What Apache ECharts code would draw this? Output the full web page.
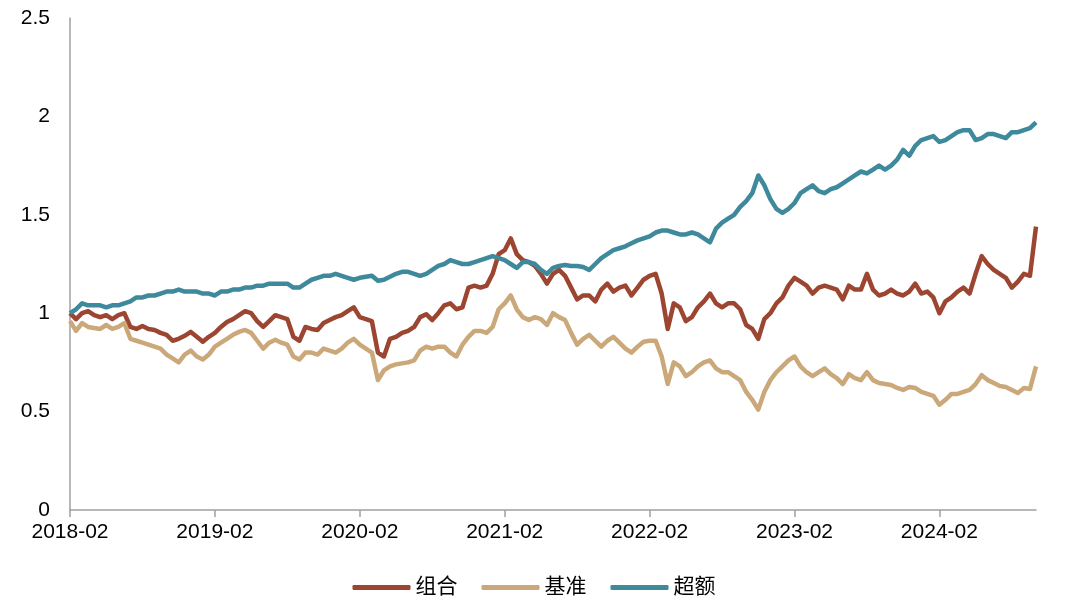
<!DOCTYPE html>
<html>
<head>
<meta charset="utf-8">
<script src="https://cdn.jsdelivr.net/npm/echarts@6/dist/echarts.min.js"></script>
<style>
html,body{margin:0;padding:0;background:#fff;}
#chart{width:1068px;height:611px;}
</style>
</head>
<body>
<div id="chart"></div>
<script>
// Half-monthly sample dates from 2018-02 to 2024-09 end
const startYear = 2018, startMonth = 2, nPoints = 161;
const categories = [];
for (let i = 0; i < nPoints; i++) {
  const m0 = (startMonth - 1) + Math.floor(i / 2);
  const y = startYear + Math.floor(m0 / 12);
  const m = (m0 % 12) + 1;
  const d = (i % 2 === 0) ? '01' : '16';
  categories.push(y + '-' + String(m).padStart(2, '0') + '-' + d);
}

const seriesNames = ['组合', '基准', '超额'];
const yTicks = [0, 0.5, 1, 1.5, 2, 2.5];

const portfolio = [
  1.00,0.97,1.00,1.01,0.99,0.98,0.99,0.97,0.99,1.00,
  0.93,0.92,0.935,0.92,0.915,0.90,0.89,0.86,0.87,0.885,
  0.905,0.88,0.855,0.88,0.90,0.93,0.955,0.97,0.99,1.01,
  1.00,0.96,0.93,0.96,0.99,0.98,0.97,0.88,0.86,0.93,
  0.92,0.915,0.95,0.965,0.98,0.99,1.01,1.03,0.98,0.97,
  0.96,0.80,0.78,0.87,0.88,0.90,0.91,0.93,0.98,0.995,
  0.965,1.00,1.04,1.05,1.02,1.03,1.13,1.14,1.13,1.14,
  1.20,1.30,1.32,1.38,1.30,1.27,1.26,1.24,1.20,1.15,
  1.20,1.22,1.19,1.13,1.07,1.09,1.09,1.06,1.12,1.15,
  1.11,1.13,1.14,1.09,1.13,1.17,1.19,1.20,1.10,0.92,
  1.05,1.03,0.96,0.98,1.03,1.06,1.10,1.05,1.03,1.05,
  1.05,1.02,0.94,0.92,0.87,0.97,1.00,1.05,1.08,1.14,
  1.18,1.16,1.14,1.10,1.13,1.14,1.13,1.12,1.07,1.14,
  1.12,1.12,1.20,1.12,1.09,1.10,1.12,1.10,1.09,1.11,
  1.15,1.10,1.11,1.08,1.00,1.06,1.08,1.11,1.13,1.10,
  1.20,1.29,1.25,1.22,1.20,1.18,1.13,1.16,1.20,1.19,
  1.44
];

const benchmark = [
  0.96,0.91,0.95,0.93,0.925,0.92,0.94,0.92,0.93,0.95,
  0.87,0.86,0.85,0.84,0.83,0.82,0.79,0.77,0.75,0.79,
  0.81,0.78,0.765,0.79,0.83,0.85,0.87,0.89,0.905,0.915,
  0.90,0.86,0.82,0.85,0.865,0.85,0.84,0.78,0.765,0.80,
  0.80,0.79,0.82,0.81,0.80,0.82,0.85,0.87,0.84,0.82,
  0.80,0.66,0.71,0.73,0.74,0.745,0.75,0.76,0.81,0.83,
  0.82,0.83,0.83,0.80,0.78,0.84,0.88,0.91,0.91,0.90,
  0.93,1.02,1.05,1.09,1.02,0.98,0.965,0.98,0.97,0.94,
  1.00,0.98,0.965,0.90,0.84,0.87,0.89,0.86,0.83,0.86,
  0.88,0.85,0.82,0.80,0.83,0.855,0.86,0.86,0.78,0.64,
  0.75,0.73,0.68,0.70,0.73,0.75,0.76,0.72,0.70,0.70,
  0.68,0.66,0.60,0.56,0.51,0.60,0.66,0.70,0.73,0.76,
  0.78,0.73,0.70,0.68,0.70,0.72,0.69,0.67,0.64,0.69,
  0.67,0.66,0.70,0.66,0.645,0.64,0.635,0.62,0.61,0.625,
  0.62,0.60,0.59,0.58,0.535,0.56,0.59,0.59,0.60,0.61,
  0.64,0.685,0.66,0.645,0.63,0.625,0.61,0.595,0.62,0.615,
  0.73
];

const excess = [
  1.00,1.02,1.05,1.04,1.04,1.04,1.03,1.04,1.04,1.05,
  1.06,1.08,1.08,1.09,1.09,1.10,1.11,1.11,1.12,1.11,
  1.11,1.11,1.10,1.10,1.09,1.11,1.11,1.12,1.12,1.13,
  1.13,1.14,1.14,1.15,1.15,1.15,1.15,1.13,1.13,1.15,
  1.17,1.18,1.19,1.19,1.20,1.19,1.18,1.17,1.18,1.185,
  1.19,1.165,1.17,1.185,1.20,1.21,1.21,1.20,1.19,1.20,
  1.22,1.24,1.25,1.27,1.26,1.25,1.25,1.26,1.27,1.28,
  1.29,1.28,1.27,1.25,1.23,1.26,1.26,1.25,1.22,1.20,
  1.23,1.24,1.245,1.24,1.24,1.235,1.22,1.25,1.28,1.30,
  1.32,1.33,1.34,1.355,1.37,1.38,1.39,1.41,1.42,1.42,
  1.41,1.40,1.40,1.41,1.40,1.38,1.36,1.43,1.46,1.48,
  1.50,1.54,1.57,1.61,1.70,1.65,1.58,1.53,1.51,1.53,
  1.56,1.61,1.63,1.65,1.62,1.61,1.63,1.64,1.66,1.68,
  1.70,1.72,1.71,1.73,1.75,1.73,1.75,1.78,1.83,1.80,
  1.85,1.88,1.89,1.90,1.87,1.88,1.90,1.92,1.93,1.93,
  1.88,1.89,1.91,1.91,1.90,1.89,1.92,1.92,1.93,1.94,
  1.97
];

const colors = ['#9C4632', '#CBA87A', '#3E899B'];

const chart = echarts.init(document.getElementById('chart'), null, {renderer: 'canvas'});
const fontFamily = '"Liberation Sans", Arial, "Noto Sans CJK SC", sans-serif';
const showYear = (idx, val) => /-02-01$/.test(val);

chart.setOption({
  animation: false,
  backgroundColor: '#ffffff',
  color: colors,
  grid: {left: 70, right: 32, top: 18, bottom: 101, containLabel: false},
  legend: {
    bottom: 8,
    left: 'center',
    itemWidth: 58,
    itemHeight: 5,
    itemGap: 24,
    icon: 'roundRect',
    textStyle: {fontSize: 21, color: '#000', fontFamily: fontFamily},
    data: seriesNames
  },
  xAxis: {
    type: 'category',
    data: categories,
    boundaryGap: false,
    axisLine: {show: true, lineStyle: {color: '#A0A0A0', width: 1.5}},
    axisTick: {show: true, interval: showYear, length: 7, lineStyle: {color: '#A0A0A0', width: 1.5}},
    axisLabel: {
      interval: showYear,
      formatter: v => v.slice(0, 7),
      fontSize: 21, color: '#000', fontFamily: fontFamily, margin: 12
    },
    splitLine: {show: false}
  },
  yAxis: {
    type: 'value',
    min: yTicks[0],
    max: yTicks[yTicks.length - 1],
    interval: 0.5,
    axisLine: {show: true, lineStyle: {color: '#A0A0A0', width: 1.5}},
    axisTick: {show: false},
    axisLabel: {fontSize: 21, color: '#000', fontFamily: fontFamily, margin: 20},
    splitLine: {show: false}
  },
  series: [
    {name: seriesNames[0], type: 'line', data: portfolio, showSymbol: false, symbol: 'none', lineStyle: {width: 4.5, color: colors[0], join: 'round'}, itemStyle: {color: colors[0]}},
    {name: seriesNames[1], type: 'line', data: benchmark, showSymbol: false, symbol: 'none', lineStyle: {width: 4.5, color: colors[1], join: 'round'}, itemStyle: {color: colors[1]}},
    {name: seriesNames[2], type: 'line', data: excess, showSymbol: false, symbol: 'none', lineStyle: {width: 4.5, color: colors[2], join: 'round'}, itemStyle: {color: colors[2]}}
  ]
});
</script>
</body>
</html>
